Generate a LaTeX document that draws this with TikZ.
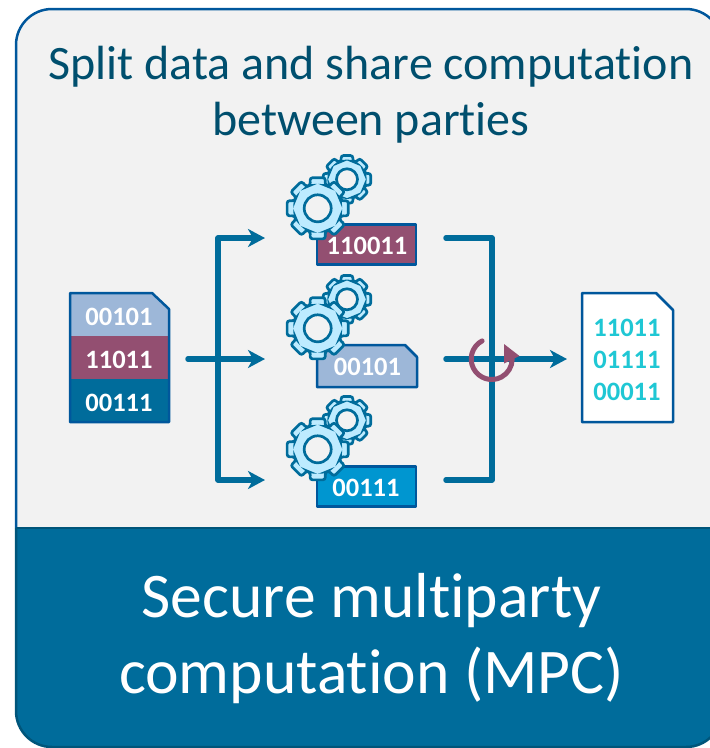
\documentclass[tikz,border=0pt]{standalone}
\usepackage{fontspec}
\setmainfont[Ligatures=NoCommon]{Carlito}
\usetikzlibrary{arrows.meta}
\definecolor{panelbg}{HTML}{F2F2F2}
\definecolor{panelline}{HTML}{00579C}
\definecolor{teal}{HTML}{006C9B}
\definecolor{tealdark}{HTML}{00557A}
\definecolor{titleink}{HTML}{004F6E}
\definecolor{paleblue}{HTML}{9DB7D8}
\definecolor{mauve}{HTML}{934F71}
\definecolor{brightblue}{HTML}{0096D0}
\definecolor{gearfill}{HTML}{BDEBFF}
\definecolor{bitcyan}{HTML}{1FC7D4}
\tikzset{
    link/.style={line width=5.5pt, draw=teal, line cap=round, line join=round,
        >={Stealth[length=17pt,width=18pt,inset=5pt]}},
    docline/.style={line width=2.5pt, draw=panelline, line join=round},
    bits/.style={font=\fontsize{26.5}{27}\selectfont\bfseries, text=white, inner sep=0pt},
    sharebox/.style={docline, minimum width=99pt, minimum height=40pt, inner sep=0pt},
    gearline/.style={line width=2.7pt, draw=teal, fill=gearfill, rounded corners=2.5pt}
}
% #1 centre, #2 outer radius, #3 hole radius
\newcommand{\gearwheel}[3]{
    \begin{scope}[shift={#1}]
        \draw[gearline] (-14:#2)
            \foreach \a in {0,45,...,270} {
                -- (\a+14:#2) -- (\a+18:0.77*#2) -- (\a+27:0.77*#2) -- (\a+31:#2)
            } -- (329:#2) -- (333:0.77*#2) -- (342:0.77*#2) -- cycle;
        \draw[line width=2.7pt, draw=teal, fill=panelbg] (0,0) circle (#3);
    \end{scope}
}
\begin{document}
\begin{tikzpicture}[x=1pt,y=-1pt]
    \useasboundingbox (0,0) rectangle (710,748);
    \clip (0,0) rectangle (710,748);

    % Panel
    \fill[panelbg, rounded corners=36pt] (16,540) -- (16,9) -- (722,9) -- (722,540);
    \draw[line width=2.5pt, panelline, rounded corners=36pt] (16,528) -- (16,9) -- (722,9) -- (722,528);
    \begin{scope}
        \clip (0,528) rectangle (710,748);
        \draw[line width=2.5pt, draw=tealdark, fill=teal, rounded corners=36pt]
            (16,480) -- (16,747) -- (722,747) -- (722,480) -- cycle;
    \end{scope}
    \draw[line width=2.5pt, tealdark] (16,528) -- (710,528);
    \node[font=\fontsize{48}{56}\selectfont, text=titleink, align=center] (title) at (371,95)
        {Split data and share computation\\between parties};
    \node[font=\fontsize{63.6}{76}\selectfont, text=white, align=center] (name) at (371.5,639)
        {Secure multiparty\\computation (MPC)};

    % Source document
    \fill[paleblue] (70,293) -- (152,293) -- (169,309) -- (169,336) -- (70,336) -- cycle;
    \fill[mauve] (70,336) rectangle (169,379);
    \fill[teal] (70,379) rectangle (169,422);
    \draw[docline] (70,293) -- (152,293) -- (169,309) -- (169,422) -- (70,422) -- cycle;
    \foreach \y/\val in {317/00101, 360/11011, 403/00111} {
        \node[bits] (src\val) at (119,\y) {\val};
    }

    % Links
    \coordinate (srcOut) at (188,359);
    \coordinate (busA) at (218,238);
    \coordinate (busC) at (218,480);
    \coordinate (inA) at (265,238);
    \coordinate (inB) at (265,359);
    \coordinate (inC) at (265,480);
    \coordinate (outA) at (446,238);
    \coordinate (outB) at (446,359);
    \coordinate (outC) at (446,480);
    \coordinate (mergeA) at (492,238);
    \coordinate (mergeC) at (492,480);
    \coordinate (resIn) at (567,359);
    \draw[link,<->] (inA) -- (busA) -- (busC) -- (inC);
    \draw[link,->] (srcOut) -- (inB);
    \draw[link] (outA) -- (mergeA) -- (mergeC) -- (outC);
    \draw[link,->] (outB) -- (resIn);

    % Shares
    \node[sharebox, fill=mauve] (shareA) at (366.7,244.5) {};
    \draw[docline, fill=paleblue] (317,345) -- (405,345) -- (417,357) -- (417,387) -- (317,387) -- cycle;
    \node[sharebox, fill=brightblue] (shareC) at (366.7,486.5) {};
    \node[bits] (bitsA) at (367,246) {110011};
    \node[bits] (bitsB) at (367.5,367) {00101};
    \node[bits] (bitsC) at (366,488) {00111};

    % Gears
    \foreach \y in {208.3,328.3,449.3} {
        \gearwheel{(347,\y-29)}{24.5}{10.5}
        \gearwheel{(317.7,\y)}{31.5}{13.5}
    }

    % Rotation mark
    \coordinate (spin) at (491.7,359);
    \draw[line width=5pt, mauve, line cap=round] (spin) ++(242:20.5)
        arc[start angle=242,end angle=0,radius=20.5];
    \fill[mauve] (504,344) -- (519.5,356) -- (504,363.5) -- cycle;

    % Result document
    \draw[docline, fill=white] (582,293) -- (656,293) -- (673,310) -- (673,422) -- (582,422) -- cycle;
    \foreach \y/\val in {328/11011, 360/01111, 392/00011} {
        \node[bits, text=bitcyan] (res\val) at (627,\y) {\val};
    }
\end{tikzpicture}
\end{document}
